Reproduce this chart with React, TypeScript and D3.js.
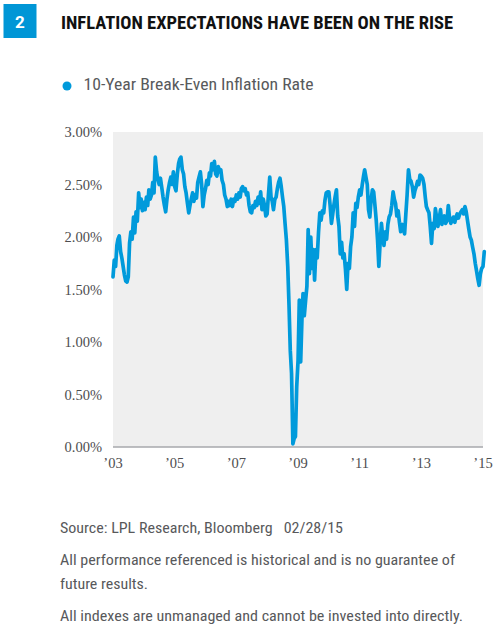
import React from "react";
import * as d3 from "d3";

// Semi-monthly readings (1st and 16th of each month), percent
const y2003 = [1.62, 1.78, 1.72, 1.92, 1.98, 2.01, 1.86, 1.8, 1.72, 1.64, 1.58, 1.57, 1.62, 1.94, 2.05, 1.98, 2.19, 2.04, 2.24, 2.15, 2.42, 2.28, 2.36, 2.25];
const y2004 = [2.33, 2.26, 2.38, 2.3, 2.45, 2.36, 2.4, 2.52, 2.42, 2.76, 2.62, 2.55, 2.5, 2.56, 2.47, 2.38, 2.3, 2.24, 2.36, 2.45, 2.52, 2.57, 2.5, 2.62];
const y2005 = [2.48, 2.44, 2.6, 2.7, 2.74, 2.76, 2.64, 2.6, 2.48, 2.42, 2.32, 2.23, 2.3, 2.36, 2.42, 2.34, 2.4, 2.37, 2.52, 2.57, 2.62, 2.5, 2.29, 2.4];
const y2006 = [2.46, 2.54, 2.5, 2.61, 2.58, 2.7, 2.64, 2.72, 2.6, 2.58, 2.67, 2.62, 2.64, 2.54, 2.5, 2.4, 2.36, 2.29, 2.34, 2.3, 2.36, 2.29, 2.36, 2.34];
const y2007 = [2.4, 2.36, 2.42, 2.38, 2.46, 2.48, 2.44, 2.46, 2.4, 2.42, 2.3, 2.24, 2.23, 2.3, 2.28, 2.34, 2.3, 2.38, 2.32, 2.43, 2.26, 2.36, 2.3, 2.2];
const y2008 = [2.22, 2.4, 2.57, 2.38, 2.34, 2.26, 2.36, 2.38, 2.46, 2.52, 2.56, 2.48, 2.38, 2.29, 2.12, 1.97, 1.72, 1.35, 0.92, 0.7, 0.03, 0.08, 0.1, 0.57];
const y2009 = [0.82, 1.4, 0.81, 1.21, 1.46, 1.25, 1.4, 1.53, 2.07, 1.65, 2.0, 1.7, 1.88, 1.59, 1.88, 1.8, 2.05, 2.23, 2.16, 2.25, 2.23, 2.35, 2.42, 2.43];
const y2010 = [2.43, 2.3, 2.13, 2.22, 2.3, 2.38, 2.45, 2.2, 2.1, 1.84, 1.95, 1.8, 1.84, 1.7, 1.5, 1.75, 1.7, 1.91, 2.0, 2.23, 2.1, 2.32, 2.28, 2.38];
const y2011 = [2.45, 2.4, 2.5, 2.58, 2.64, 2.57, 2.5, 2.26, 2.19, 2.35, 2.45, 2.43, 2.3, 2.16, 1.97, 1.72, 1.95, 2.13, 2.0, 1.92, 2.05, 1.98, 2.12, 2.19];
const y2012 = [2.22, 2.3, 2.43, 2.36, 2.32, 2.2, 2.25, 2.14, 2.05, 2.12, 2.08, 2.03, 2.22, 2.4, 2.64, 2.55, 2.53, 2.48, 2.38, 2.44, 2.48, 2.53, 2.5, 2.59];
const y2013 = [2.58, 2.56, 2.5, 2.38, 2.29, 2.26, 2.23, 2.1, 1.94, 2.13, 2.08, 2.27, 2.18, 2.1, 2.18, 2.26, 2.12, 2.16, 2.2, 2.13, 2.16, 2.3, 2.18, 2.13];
const y2014 = [2.16, 2.19, 2.14, 2.19, 2.22, 2.18, 2.22, 2.24, 2.26, 2.22, 2.29, 2.24, 2.16, 2.08, 2.0, 1.97, 1.9, 1.84, 1.75, 1.68, 1.6, 1.54, 1.65, 1.7];
const y2015 = [1.72, 1.86];

const yearlyReadings = [y2003, y2004, y2005, y2006, y2007, y2008, y2009, y2010, y2011, y2012, y2013, y2014, y2015];
const firstYear = 2003;

const yTicks = [0, 0.5, 1, 1.5, 2, 2.5, 3];
const xTickYears = [2003, 2005, 2007, 2009, 2011, 2013, 2015];

const titleText = "INFLATION EXPECTATIONS HAVE BEEN ON THE RISE";
const seriesName = "10-Year Break-Even Inflation Rate";
const footnotes = [
  "Source: LPL Research, Bloomberg   02/28/15",
  "All performance referenced is historical and is no guarantee of",
  "future results.",
  "All indexes are unmanaged and cannot be invested into directly.",
];

type Pt = { date: Date; value: number };

const data: Pt[] = [];
yearlyReadings.forEach((arr, yi) => {
  arr.forEach((v, k) => {
    const month = Math.floor(k / 2);
    const day = k % 2 === 0 ? 1 : 16;
    data.push({ date: new Date(firstYear + yi, month, day), value: v });
  });
});

const BLUE = "#009ADB";
const GREY_TEXT = "#58595B";
const condensed = "'Liberation Sans Narrow', 'Roboto Condensed', Roboto, 'Noto Sans', sans-serif";
const serif = "'Liberation Serif', 'DejaVu Serif', serif";

export default function App() {
  const W = 500;
  const H = 629;
  const plot = { left: 113, right: 483, top: 132, bottom: 447 };

  const x = d3
    .scaleTime()
    .domain([new Date(2003, 0, 1), new Date(2015, 0, 1)])
    .range([plot.left, plot.right]);
  const y = d3.scaleLinear().domain([0, 3]).range([plot.bottom, plot.top]);

  const line = d3
    .line<Pt>()
    .x((d) => x(d.date))
    .y((d) => y(d.value));

  const fmt = d3.format(".2%");

  return (
    <svg
      width={W}
      height={H}
      style={{ position: "absolute", left: 0, top: 0, background: "#fff" }}
    >
      {/* Badge */}
      <rect x={3.5} y={4} width={33} height={34} fill="#0096D6" />
      <text
        x={20}
        y={28}
        textAnchor="middle"
        fill="#fff"
        fontFamily="Roboto, 'Noto Sans', sans-serif"
        fontWeight={700}
        fontSize={17}
      >
        2
      </text>
      {/* Title */}
      <text
        x={61}
        y={28.5}
        fill="#111"
        fontFamily={condensed}
        fontWeight={700}
        fontSize={18.5}
        textLength={392}
        lengthAdjust="spacingAndGlyphs"
      >
        {titleText}
      </text>

      {/* Legend */}
      <circle cx={67} cy={86} r={4.5} fill={BLUE} />
      <text
        x={83.5}
        y={90}
        fill={GREY_TEXT}
        fontFamily={condensed}
        fontSize={16}
        textLength={230}
        lengthAdjust="spacingAndGlyphs"
      >
        {seriesName}
      </text>

      {/* Plot background */}
      <rect
        x={plot.left}
        y={plot.top}
        width={plot.right - plot.left}
        height={plot.bottom - plot.top}
        fill="#EFEFEF"
      />

      {/* Y tick labels */}
      {yTicks.map((t) => (
        <text
          key={t}
          x={102}
          y={y(t) + 5}
          textAnchor="end"
          fill="#4D4D4F"
          fontFamily={serif}
          fontSize={14.5}
        >
          {fmt(t / 100)}
        </text>
      ))}

      {/* Series line */}
      <path
        d={line(data) || ""}
        fill="none"
        stroke={BLUE}
        strokeWidth={3.7}
        strokeLinejoin="round"
        strokeLinecap="round"
      />

      {/* X axis baseline */}
      <line
        x1={plot.left}
        x2={plot.right}
        y1={plot.bottom}
        y2={plot.bottom}
        stroke="#A7A9AC"
        strokeWidth={1.5}
      />

      {/* X tick labels */}
      {xTickYears.map((yr) => (
        <text
          key={yr}
          x={x(new Date(yr, 0, 1))}
          y={468}
          textAnchor="middle"
          fill="#4D4D4F"
          fontFamily={serif}
          fontSize={14.5}
        >
          {"\u2019" + String(yr).slice(2)}
        </text>
      ))}

      {/* Footnotes */}
      {footnotes.map((f, i) => {
        const ys = [533, 565, 589, 620.5];
        const widths = [283, 395, 88, 403];
        return (
          <text
            key={i}
            x={60}
            y={ys[i]}
            fill={GREY_TEXT}
            fontFamily={condensed}
            fontSize={15.5}
            textLength={widths[i]}
            lengthAdjust="spacingAndGlyphs"
            style={{ whiteSpace: "pre" }}
          >
            {f}
          </text>
        );
      })}
    </svg>
  );
}
